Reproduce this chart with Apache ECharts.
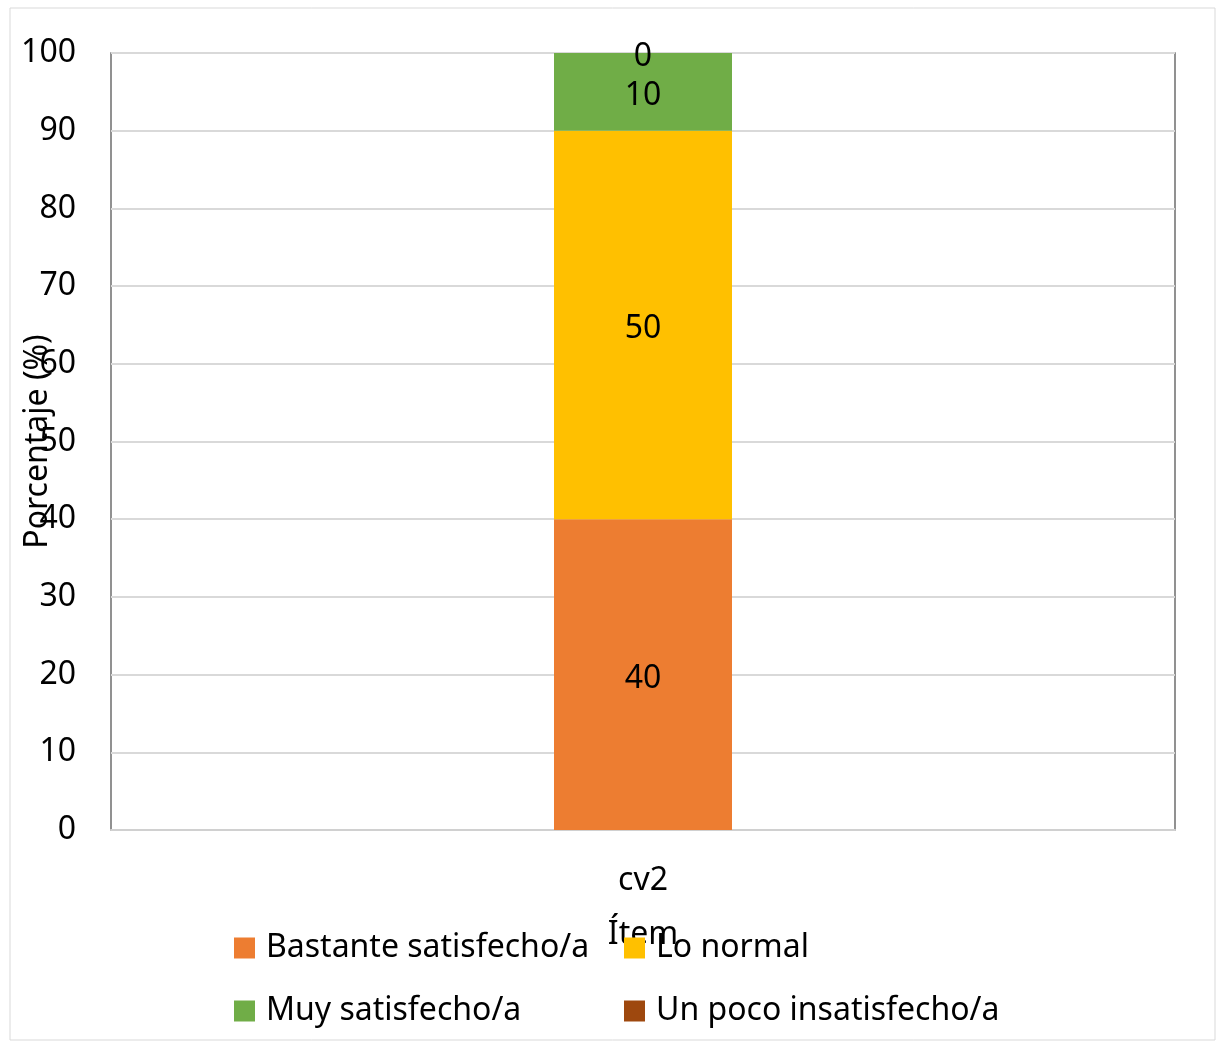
<!DOCTYPE html>
<html><head><meta charset="utf-8">
<script src="https://cdn.jsdelivr.net/npm/echarts@6/dist/echarts.min.js"></script>
<style>html,body{margin:0;padding:0;background:#fff}#c{width:1217px;height:1043px}</style>
</head><body><div id="c"></div>
<script>
const categories = ["cv2"];
const seriesNames = ["Bastante satisfecho/a", "Lo normal", "Muy satisfecho/a", "Un poco insatisfecho/a"];
const bastante = [40];
const loNormal = [50];
const muy = [10];
const unPoco = [0];
const yTicks = [0, 10, 20, 30, 40, 50, 60, 70, 80, 90, 100];
const colors = ["#ED7D31", "#FFC000", "#70AD47", "#9E480E"];
const FONT = "'Noto Sans', sans-serif";
const FS = 32;

const chart = echarts.init(document.getElementById('c'));
const vals = [bastante, loNormal, muy, unPoco];
const series = seriesNames.map((n, i) => ({
  name: n, type: 'bar', stack: 'total', barWidth: 178,
  data: vals[i],
  itemStyle: { color: colors[i] },
  label: { show: true, position: 'inside', offset: [0, 4], color: '#000', fontSize: FS, fontFamily: FONT }
}));
const legendBase = {
  orient: 'vertical', top: 932, itemWidth: 21, itemHeight: 21, itemGap: 31, icon: 'rect', padding: 0,
  textStyle: { fontSize: FS, color: '#000', fontFamily: FONT, padding: [0, 0, 0, 6] }
};
chart.setOption({
  animation: false,
  textStyle: { fontFamily: FONT },
  graphic: [{ type: 'rect', shape: { x: 10, y: 8, width: 1205, height: 1032 }, style: { fill: 'none', stroke: '#d9d9d9', lineWidth: 1 }, silent: true }],
  grid: { left: 111, top: 53, right: 42, bottom: 213, show: true, borderColor: '#6e6e6e', borderWidth: 1.5, outerBoundsMode: 'none', containLabel: false },
  legend: [
    Object.assign({}, legendBase, { data: [seriesNames[0], seriesNames[2]], left: 234 }),
    Object.assign({}, legendBase, { data: [seriesNames[1], seriesNames[3]], left: 624 })
  ],
  xAxis: {
    type: 'category', data: categories,
    name: 'Ítem', nameLocation: 'middle', nameGap: 89, nameMoveOverlap: false,
    nameTextStyle: { fontSize: FS, color: '#000', fontFamily: FONT },
    axisLine: { show: true, lineStyle: { color: '#d0d0d0', width: 2 } },
    axisTick: { show: false },
    axisLabel: { fontSize: FS, color: '#000', margin: 35, fontFamily: FONT }
  },
  yAxis: {
    type: 'value', min: 0, max: 100, interval: 10,
    name: 'Porcentaje (%)', nameLocation: 'middle', nameGap: 57, nameMoveOverlap: false,
    nameTextStyle: { fontSize: FS, color: '#000', fontFamily: FONT },
    axisLine: { show: false }, axisTick: { show: false },
    axisLabel: { fontSize: FS, color: '#000', margin: 35, fontFamily: FONT, padding: [7, 0, 0, 0],
      formatter: v => yTicks.includes(v) ? String(v) : '' },
    splitLine: { lineStyle: { color: '#d9d9d9', width: 2 } }
  },
  series: series
});
</script></body></html>
